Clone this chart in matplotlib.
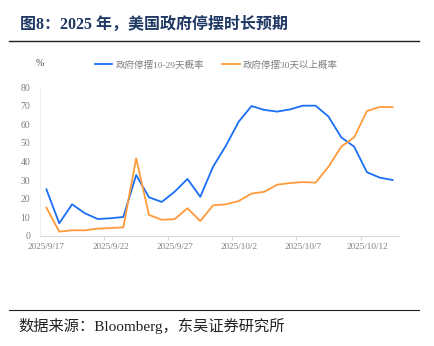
import matplotlib
matplotlib.use('Agg')
import matplotlib.pyplot as plt
import numpy as np
from matplotlib.lines import Line2D

plt.rcParams['font.family'] = ['Liberation Serif', 'Noto Sans CJK SC']

dates = ['2025/9/17', '2025/9/18', '2025/9/19', '2025/9/20', '2025/9/21', '2025/9/22',
         '2025/9/23', '2025/9/24', '2025/9/25', '2025/9/26', '2025/9/27', '2025/9/28',
         '2025/9/29', '2025/9/30', '2025/10/1', '2025/10/2', '2025/10/3', '2025/10/4',
         '2025/10/5', '2025/10/6', '2025/10/7', '2025/10/8', '2025/10/9', '2025/10/10',
         '2025/10/11', '2025/10/12', '2025/10/13', '2025/10/14']
p_10_29 = [25.0, 6.7, 16.9, 12.1, 9.0, 9.4, 10.1, 32.7, 20.7, 18.2, 23.7, 30.6, 21.0, 37.2,
           48.5, 61.5, 69.9, 67.8, 66.9, 68.1, 70.1, 70.1, 64.2, 53.0, 48.0, 34.2, 31.3, 30.0]
p_30_plus = [15.1, 2.2, 2.9, 2.9, 3.8, 4.1, 4.5, 41.7, 11.2, 8.6, 8.9, 14.8, 7.9, 16.4,
             16.9, 18.7, 22.7, 23.7, 27.5, 28.4, 28.9, 28.6, 37.2, 48.0, 53.0, 67.2, 69.4, 69.3]
labels = ['政府停摆10-29天概率', '政府停摆30天以上概率']

blue = '#1a6ff5'
orange = '#ff9a3a'
gray = '#7f7f7f'

fig = plt.figure(figsize=(4.34, 3.46), dpi=100)
ax = fig.add_axes([40 / 434, 1 - 235.7 / 346, 359 / 434, 148.4 / 346])

x = np.arange(len(dates))
ax.plot(x, p_10_29, color=blue, lw=1.3)
ax.plot(x, p_30_plus, color=orange, lw=1.3)

ax.set_xlim(-0.5, len(dates) - 0.5)
ax.set_ylim(0, 80)
ax.set_yticks(range(0, 81, 10))
ax.tick_params(axis='y', length=0, labelsize=7, labelcolor=gray, pad=7)

# ticks between categories, labels every 5 days
ax.set_xticks(np.arange(4.5, len(dates), 5))
ax.set_xticklabels([])
ax.set_xticks(x[::5], minor=True)
ax.set_xticklabels([dates[i] for i in x[::5]], minor=True)
ax.tick_params(axis='x', which='major', length=3, color='#d9d9d9', width=0.8)
ax.tick_params(axis='x', which='minor', length=0, labelsize=6.6, labelcolor=gray, pad=5)

for s in ['top', 'right']:
    ax.spines[s].set_visible(False)
ax.spines['bottom'].set_color('#d9d9d9')
ax.spines['left'].set_color('#eeeeee')
ax.spines['bottom'].set_linewidth(0.8)
ax.spines['left'].set_linewidth(0.6)

# legend
handles = [Line2D([], [], color=blue, lw=1.3), Line2D([], [], color=orange, lw=1.3)]
fig.legend(handles, labels, loc='center', bbox_to_anchor=(216 / 434, 1 - 65 / 346), ncol=2,
           frameon=False, fontsize=6.8, labelcolor=gray, handlelength=1.9,
           handletextpad=0.3, columnspacing=1.9)
fig.text(36 / 434, 1 - 64 / 346, '%', fontsize=7, color='#404040', va='center')

# title and source
fig.text(20 / 434, 1 - 25 / 346, '图8：2025 年，美国政府停摆时长预期', fontsize=11.5,
         fontweight='bold', color='#1f3864', va='center',
         family=['Liberation Serif', 'Noto Sans CJK SC'])
fig.add_artist(Line2D([9 / 434, 419 / 434], [1 - 41 / 346, 1 - 41 / 346], color='#222222', lw=1.0))
fig.add_artist(Line2D([9 / 434, 419 / 434], [1 - 310 / 346, 1 - 310 / 346], color='#222222', lw=0.8))
fig.text(18 / 434, 1 - 326 / 346, '数据来源：Bloomberg，东吴证券研究所', fontsize=11,
         color='#222222', va='center')

fig.savefig('out.png', dpi=100)
